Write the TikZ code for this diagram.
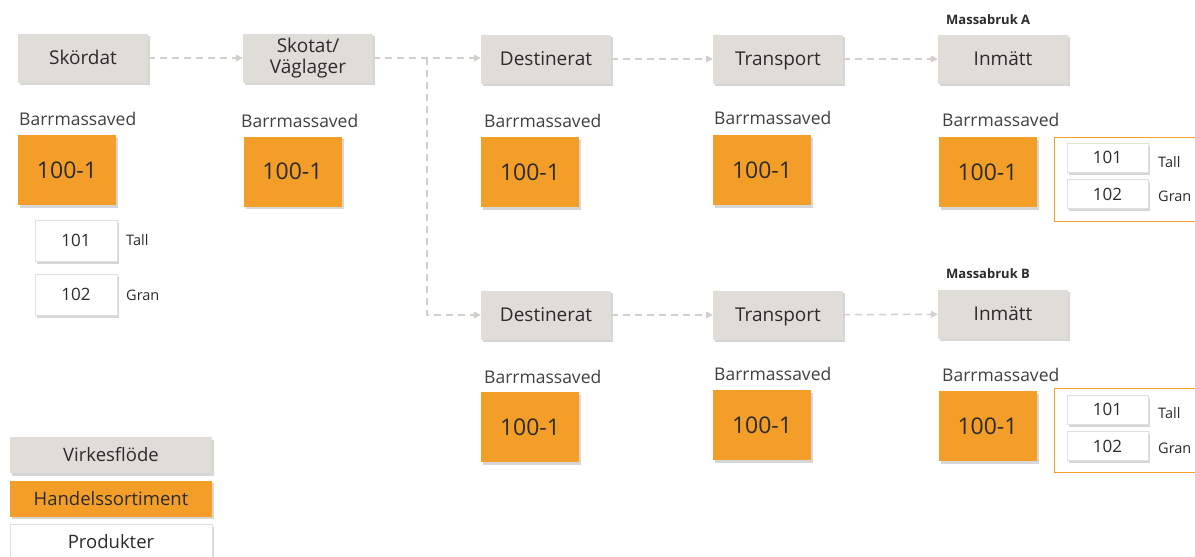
\documentclass[tikz,border=0pt]{standalone}
\usepackage{fontspec}
\setmainfont{Open Sans}
\usetikzlibrary{arrows.meta,shadows}
\definecolor{flowgray}{HTML}{E0DDD8}
\definecolor{sortorange}{HTML}{F49E2A}
\definecolor{txt}{HTML}{2B2B2B}
\definecolor{dashgray}{HTML}{D3CFCA}
\definecolor{whiteedge}{HTML}{E2E0DC}
\tikzset{
  shad/.style={drop shadow={shadow xshift=2pt,shadow yshift=-2.5pt,opacity=0.35,fill=black!45}},
  flowbox/.style={rectangle,fill=flowgray,minimum width=130pt,minimum height=49pt,inner sep=0pt,shad,text=txt,font=\fontsize{19}{21}\selectfont,align=center},
  onetext/.style={text height=13.6pt,text depth=0pt},
  sortbox/.style={rectangle,fill=sortorange,minimum width=98pt,minimum height=70pt,inner sep=0pt,shad,text=txt,font=\fontsize{23}{25}\selectfont},
  prodbig/.style={rectangle,fill=white,draw=whiteedge,line width=0.8pt,minimum width=82pt,minimum height=41pt,inner sep=0pt,shad,text=txt,font=\fontsize{17}{19}\selectfont},
  prodsmall/.style={rectangle,fill=white,draw=whiteedge,line width=0.8pt,minimum width=81pt,minimum height=29pt,inner sep=0pt,shad,text=txt,font=\fontsize{17}{19}\selectfont},
  lbl/.style={anchor=west,inner sep=0pt,text=txt!90,font=\fontsize{17.5}{19}\selectfont},
  prodlbl/.style={anchor=west,inner sep=0pt,text=txt,font=\fontsize{14.5}{16}\selectfont},
  millbl/.style={anchor=west,inner sep=0pt,text=txt,font=\fontsize{13}{15}\bfseries\selectfont},
  legbox/.style={rectangle,minimum width=202pt,minimum height=36pt,inner sep=0pt,shad,text=txt,font=\fontsize{18.5}{20}\selectfont},
  grp/.style={rectangle,draw=sortorange,line width=1.3pt,anchor=north west,minimum width=150pt,minimum height=84pt,inner sep=0pt},
  flow/.style={draw=dashgray,line width=1.5pt,dash pattern=on 7pt off 5pt,-{Triangle[width=7pt,length=7pt,fill=dashgray]}}
}
\begin{document}
\begin{tikzpicture}[x=1pt,y=-1pt]
\useasboundingbox[fill=white] (0,0) rectangle (1195,557);
% flow boxes
\node[flowbox,onetext] (skord) at (83,58) {Skördat};
\node[flowbox] (skot) at (308,58) {Skotat/\\[0pt]Väglager};
\node[flowbox,onetext] (dest1) at (546,59) {Destinerat};
\node[flowbox,onetext] (trans1) at (778,59) {Transport};
\node[flowbox,onetext] (inm1) at (1003,59) {Inmätt};
\node[flowbox,onetext] (dest2) at (546,315) {Destinerat};
\node[flowbox,onetext] (trans2) at (778,315) {Transport};
\node[flowbox,onetext] (inm2) at (1003,314) {Inmätt};
% mill labels
\node[millbl] (mA) at (946,20) {Massabruk A};
\node[millbl] (mB) at (946,274) {Massabruk B};
% connectors
\coordinate (branch) at (427,58);
\draw[flow] (skord) -- (skot);
\draw[flow] (skot.east) -- (skot.east -| dest1.west);
\draw[flow] (branch) |- (dest2.west);
\draw[flow] (dest1) -- (trans1);
\draw[flow] (trans1) -- (inm1);
\draw[flow] (dest2) -- (trans2);
\draw[flow] (trans2) -- (inm2);
% Barrmassaved labels
\node[lbl] (b1) at (19,119) {Barrmassaved};
\node[lbl] (b2) at (241,121) {Barrmassaved};
\node[lbl] (b3) at (484,121) {Barrmassaved};
\node[lbl] (b4) at (714,118) {Barrmassaved};
\node[lbl] (b5) at (942,120) {Barrmassaved};
\node[lbl] (b6) at (484,377) {Barrmassaved};
\node[lbl] (b7) at (714,374) {Barrmassaved};
\node[lbl] (b8) at (942,375) {Barrmassaved};
% sortiment boxes
\node[sortbox] (s1) at (67,170) {100-1};
\node[sortbox] (s2) at (292.5,171.5) {100-1};
\node[sortbox] (s3) at (530,172) {100-1};
\node[sortbox] (s4) at (762,170) {100-1};
\node[sortbox] (s5) at (987.5,172) {100-1};
\node[sortbox] (s6) at (530,427) {100-1};
\node[sortbox] (s7) at (762,425) {100-1};
\node[sortbox] (s8) at (987.5,426) {100-1};
% left products
\node[prodbig] (p1) at (76,240.5) {101};
\node[prodbig] (p2) at (76,294.5) {102};
\node[prodlbl] (t1) at (126,240) {Tall};
\node[prodlbl] (g1) at (126,295) {Gran};
% group A
\node[grp] (gA) at (1054,137) {};
\node[prodsmall] (pa1) at (1107.5,157.5) {101};
\node[prodsmall] (pa2) at (1107.5,194) {102};
\node[prodlbl] (ta) at (1158,162) {Tall};
\node[prodlbl] (ga) at (1158,196) {Gran};
% group B
\node[grp] (gB) at (1054,388) {};
\node[prodsmall] (pb1) at (1107.5,409.5) {101};
\node[prodsmall] (pb2) at (1107.5,446) {102};
\node[prodlbl] (tb) at (1158,413) {Tall};
\node[prodlbl] (gb) at (1158,448) {Gran};
% legend
\node[legbox,fill=flowgray] (l1) at (111,455) {Virkesflöde};
\node[legbox,fill=sortorange] (l2) at (111,498.5) {Handelssortiment};
\node[legbox,fill=white,draw=whiteedge,line width=0.8pt] (l3) at (111,542) {Produkter};
\end{tikzpicture}
\end{document}
